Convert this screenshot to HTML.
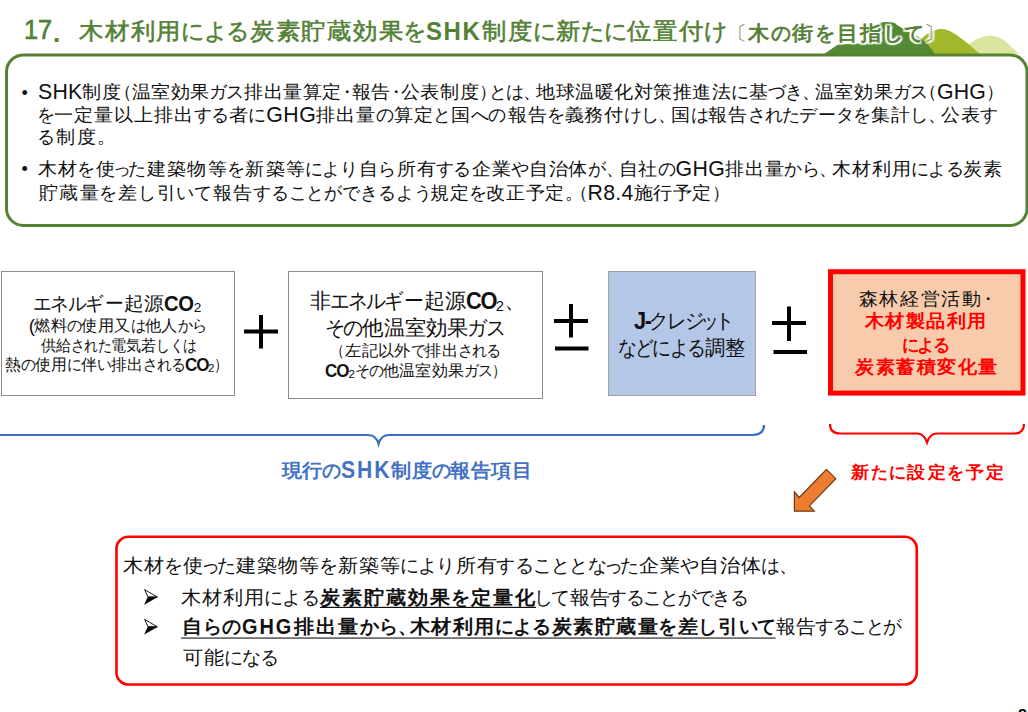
<!DOCTYPE html>
<html lang="ja">
<head>
<meta charset="utf-8">
<style>
html,body{margin:0;padding:0;background:#fff;}
body{width:1028px;height:712px;position:relative;overflow:hidden;font-family:"Liberation Sans",sans-serif;color:#111;}
svg.bg{position:absolute;left:0;top:0;}
.t{position:absolute;white-space:nowrap;line-height:1;transform-origin:0 0;}
.g{color:#538135;font-weight:bold;}
.g .cj{font-weight:normal;-webkit-text-stroke:0.55px #538135;}
.b{font-weight:bold;}
.u{text-decoration:underline;text-decoration-thickness:1.5px;text-underline-offset:3px;text-decoration-color:#444;}
.red{color:#ff0000;font-weight:bold;}
.blue{color:#4472c4;font-weight:bold;}
sub{font-size:72%;vertical-align:-0.18em;line-height:0;}
.cj{display:inline-block;white-space:nowrap;overflow:visible;}
.lt{line-height:0;}
.glow{text-shadow:0 0 2px #fff,2.4px 0 1px #fff,-2.4px 0 1px #fff,0 2.4px 1px #fff,0 -2.4px 1px #fff,1.8px 1.8px 1px #fff,-1.8px -1.8px 1px #fff,1.8px -1.8px 1px #fff,-1.8px 1.8px 1px #fff,0 0 3px #fff;}
.glow .cj{-webkit-text-stroke:0.8px #538135;}
.g .br{-webkit-text-stroke:0;color:#5f7f4c;}
</style>
</head>
<body>
<svg class="bg" width="1028" height="712" viewBox="0 0 1028 712">
  <!-- hills -->
  <path d="M958,54 C966,47 976,35.5 990,35.5 C1002,35.5 1009,45 1019,54 Z" fill="#dbe59e"/>
  <path d="M918,42 C926,34 934,29 941,29 C950,29 958,36 966,42 L980,54 L918,54 Z" fill="#a2b82b"/>
  <path d="M824,54 L838,44.5 L872,43 C875,36 876,26 879.5,23.5 C881,22.3 884,22 887,22 L893,22.5 C895,23 896,24 897.5,25.3 C906,31 915,34.5 922.5,39.5 C927,43 931,48 935,54 Z" fill="#548a33"/>
  <!-- green box -->
  <rect x="6.5" y="54.9" width="1020.5" height="170.6" rx="17" ry="17" fill="none" stroke="#548235" stroke-width="3"/>
  <!-- flow boxes -->
  <rect x="1.5" y="271.5" width="233" height="124" fill="#fff" stroke="#8c8c8c" stroke-width="1"/>
  <rect x="288.5" y="271.5" width="254" height="127" fill="#fff" stroke="#8c8c8c" stroke-width="1"/>
  <rect x="608.5" y="271.5" width="147" height="124" fill="#b4c7e7" stroke="#a0a0a0" stroke-width="1"/>
  <rect x="830.5" y="271.7" width="192.5" height="121.4" fill="#f8cbad" stroke="#ff0000" stroke-width="5"/>
  <!-- plus -->
  <rect x="244" y="329.5" width="34" height="4" fill="#000"/>
  <rect x="259" y="315" width="4" height="33.5" fill="#000"/>
  <!-- plus-minus 1 -->
  <rect x="554" y="319" width="34" height="4" fill="#000"/>
  <rect x="569" y="304" width="4" height="33.5" fill="#000"/>
  <rect x="555" y="346.5" width="33.5" height="4" fill="#000"/>
  <!-- plus-minus 2 -->
  <rect x="772" y="321" width="34" height="4" fill="#000"/>
  <rect x="787" y="306.5" width="4" height="34.5" fill="#000"/>
  <rect x="773.5" y="350" width="33.5" height="4" fill="#000"/>
  <!-- blue brace -->
  <path d="M-10,425 Q-10,435 0,435 L368,435 Q376,435 378.6,444 Q381,435 389,435 L752,435 Q764,435 764,425" fill="none" stroke="#3a6fbf" stroke-width="2.2"/>
  <!-- red brace -->
  <path d="M830,424 Q830,433.5 840,433.5 L917,433.5 Q924,433.5 927,442.5 Q930,433.5 937,433.5 L1014,433.5 Q1024,433.5 1024,424" fill="none" stroke="#ff0000" stroke-width="2.2"/>
  <!-- orange arrow -->
  <polygon points="826.5,469.4 835.8,478.7 809.4,505.9 814.3,511.2 794.4,511.2 794.4,491.8 799.2,497.5" fill="#ed7d31" stroke="#6e3a12" stroke-width="1.2" stroke-linejoin="miter"/>
  <!-- arrow bullets -->
  <polygon points="144.6,589.6 157.3,597 148,597" fill="#fff" stroke="#000" stroke-width="0.9" stroke-linejoin="miter"/>
  <polygon points="148,597 157.3,597 144.6,604.3" fill="#000" stroke="#000" stroke-width="0.5"/>
  <polygon points="144.6,619.4 157.3,626.8 148,626.8" fill="#fff" stroke="#000" stroke-width="0.9"/>
  <polygon points="148,626.8 157.3,626.8 144.6,634.1" fill="#000" stroke="#000" stroke-width="0.5"/>
  <!-- underlines -->
  <rect x="320" y="606.8" width="216" height="1.2" fill="#111"/>
  <rect x="181" y="637.2" width="594.6" height="1.8" fill="#707070"/>
  <!-- bottom red box -->
  <rect x="116.45" y="536.75" width="800.3" height="147.8" rx="12" ry="12" fill="none" stroke="#ff0000" stroke-width="2.6"/>
</svg>

<!-- title -->
<div class="t g" style="left:24.4px;top:17.3px;font-size:27px;--w:28.1px;font-weight:normal;-webkit-text-stroke:0.7px #538135">17</div>
<div class="t g" style="left:53px;top:19.5px;font-size:26px">.</div>
<div class="t g mj" style="left:78.0px;top:20.5px;font-size:22.5px;--w:648.1px">木材利用による炭素貯蔵効果をSHK制度に新たに位置付け</div>
<div class="t g mj glow" style="left:733.8px;top:22.7px;font-size:20px;--w:203.4px">〔木の街を目指して〕</div>

<!-- green box text -->
<div class="t" style="left:21.5px;top:84px;font-size:18px">•</div>
<div class="t mj" style="left:38.0px;top:83px;font-size:18px;--w:497.9px">SHK制度（温室効果ガス排出量算定・報告・公表制度）とは、</div>
<div class="t mj" style="left:536.0px;top:83px;font-size:18px;--w:460.1px">地球温暖化対策推進法に基づき、温室効果ガス（GHG）</div>
<div class="t mj" style="left:37.0px;top:106px;font-size:18px;--w:468.6px">を一定量以上排出する者にGHG排出量の算定と国への</div>
<div class="t mj" style="left:508.0px;top:106px;font-size:18px;--w:489.3px">報告を義務付けし、国は報告されたデータを集計し、公表す</div>
<div class="t mj" style="left:36.9px;top:128px;font-size:18px;--w:74.6px">る制度。</div>
<div class="t" style="left:21.5px;top:160.3px;font-size:18px">•</div>
<div class="t mj" style="left:37.0px;top:160px;font-size:18px;--w:434.0px">木材を使った建築物等を新築等により自ら所有する</div>
<div class="t mj" style="left:472.0px;top:160px;font-size:18px;--w:530.8px">企業や自治体が、自社のGHG排出量から、木材利用による炭素</div>
<div class="t mj" style="left:38.0px;top:184px;font-size:18px;--w:393.9px">貯蔵量を差し引いて報告することができるよう</div>
<div class="t mj" style="left:430.0px;top:184px;font-size:18px;--w:292.0px">規定を改正予定。（R8.4施行予定）</div>

<!-- box1 -->
<div class="t mj" style="left:33.8px;top:294px;font-size:19px;--w:167.5px">エネルギー起源<b>CO</b><sub>2</sub></div>
<div class="t mj" style="left:28.8px;top:318px;font-size:16px;--w:177.5px">(燃料の使用又は他人から</div>
<div class="t mj" style="left:40.8px;top:338px;font-size:16px;--w:154.9px">供給された電気若しくは</div>
<div class="t mj" style="left:4.7px;top:357px;font-size:16px;--w:217.2px">熱の使用に伴い排出される<b>CO</b><sub>2</sub>）</div>

<!-- box2 -->
<div class="t mj" style="left:310.4px;top:291px;font-size:20.5px;--w:206.7px">非エネルギー起源<b>CO</b><sub>2</sub>、</div>
<div class="t mj" style="left:325.9px;top:318px;font-size:20.5px;--w:179.0px">その他温室効果ガス</div>
<div class="t mj" style="left:337.4px;top:343px;font-size:16px;--w:163.1px">（左記以外で排出される</div>
<div class="t mj" style="left:324.9px;top:363px;font-size:16px;--w:174.7px"><b>CO</b><sub>2</sub>その他温室効果ガス）</div>

<!-- box3 -->
<div class="t mj" style="left:633.6px;top:311px;font-size:20.5px;--w:100.6px"><b>J-</b>クレジット</div>
<div class="t mj" style="left:619.0px;top:338px;font-size:20.5px;--w:126.0px">などによる調整</div>

<!-- red box -->
<div class="t mj" style="left:857.6px;top:291px;font-size:17.5px;--w:135.3px">森林経営活動・</div>
<div class="t red mj" style="left:863.6px;top:313px;font-size:17.5px;--w:123.0px">木材製品利用</div>
<div class="t red mj" style="left:902.5px;top:337px;font-size:17.5px;--w:47.1px">による</div>
<div class="t red mj" style="left:854.4px;top:359px;font-size:17.5px;--w:143.6px">炭素蓄積変化量</div>

<!-- labels -->
<div class="t blue mj" style="--lx:2px;--lf:1.15;left:281.6px;top:461px;font-size:19px;--w:251.0px">現行のSHK制度の報告項目</div>
<div class="t red mj" style="left:850.4px;top:464px;font-size:17px;--w:154.7px">新たに設定を予定</div>

<!-- bottom box text -->
<div class="t mj" style="left:122.3px;top:557px;font-size:18.7px;--w:671.0px">木材を使った建築物等を新築等により所有することとなった企業や自治体は、</div>
<div class="t mj" style="left:179.7px;top:589px;font-size:18.7px;--w:139.6px">木材利用による</div>
<div class="t mj b" style="left:319.2px;top:589px;font-size:18.7px;--w:217.2px">炭素貯蔵効果を定量化</div>
<div class="t mj" style="left:534.9px;top:589px;font-size:18.7px;--w:213.2px">して報告することができる</div>
<div class="t mj b" style="left:180.5px;top:618px;font-size:18.7px;--w:232.7px">自らのGHG排出量から、</div>
<div class="t mj b" style="left:409.0px;top:618px;font-size:18.7px;--w:367.0px">木材利用による炭素貯蔵量を差し引いて</div>
<div class="t mj" style="left:776.4px;top:618px;font-size:18.7px;--w:124.8px">報告することが</div>
<div class="t mj" style="left:183.0px;top:649px;font-size:18.7px;--w:95.3px">可能になる</div>

<div class="t" style="left:1018px;top:707.7px;font-size:16px;color:#000;font-weight:bold">8</div>

<script>
(function(){
  var SMALL='ぁぃぅぇぉっゃゅょゎァィゥェォッャュョヮ';
  var KX=1.06;
  function info(ch){
    var c=ch.charCodeAt(0);
    if(SMALL.indexOf(ch)>=0) return [0.65,'c'];
    if(ch==='ー') return [1.0,'c'];
    if(ch==='・'||ch==='･') return [0.5,'c'];
    if(ch==='、'||ch==='。') return [0.65,'l'];
    if(ch==='（'||ch==='〔') return [0.5,'r'];
    if(ch==='）'||ch==='〕') return [0.5,'l'];
    if(c>=0x3040&&c<=0x30FF) return [0.87,'c'];
    if((c>=0x4E00&&c<=0x9FFF)||c===0x3005) return [1.0,'c'];
    return null;
  }
  function setCell(sp,W,sq){
    sp.style.width=W+'px';
    var F=sp._F, a=sp._a;
    var ind = a==='c' ? (W-F)/2 : (a==='r' ? (W-F) : 0);
    sp.style.textIndent=ind+'px';
    var k=sp._k*sq;
    sp.style.transform = (k!==1) ? 'scaleX('+k+')' : '';
  }
  function proc(node,F,E,st){
    var kids=[].slice.call(node.childNodes);
    kids.forEach(function(k){
      if(k.nodeType===1){ if(k.tagName!=='SUB') proc(k,F,E,st); return; }
      if(k.nodeType!==3) return;
      var s=k.nodeValue, frag=document.createDocumentFragment(), run='';
      function flush(){ if(run){ var r=document.createElement('span'); r.className='lt'; r.style.fontSize=(1.1*E)+'px'; r.style.position='relative'; r.style.top=(0.06*E)+'px'; r.textContent=run; frag.appendChild(r); st.lts.push(r); run=''; } }
      for(var i=0;i<s.length;i++){
        var ch=s[i], inf=info(ch);
        if(!inf){ run+=ch; continue; }
        flush();
        var sp=document.createElement('span'); sp.className=('（）〔〕'.indexOf(ch)>=0)?'cj br':'cj';
        var W=inf[0]*E; sp._w=W; sp._a=inf[1]; sp._k=(inf[0]===1.0&&ch!=='ー')?KX:1; sp._F=F;
        setCell(sp,W,1);
        sp.textContent=ch; frag.appendChild(sp); st.cjs.push(sp);
      }
      flush();
      node.replaceChild(frag,k);
    });
  }
  var mj=document.querySelectorAll('.mj');
  for(var i=0;i<mj.length;i++){
    var el=mj[i];
    var F=parseFloat(getComputedStyle(el).fontSize), E=F/0.93;
    var st={lts:[],cjs:[]};
    proc(el,F,E,st);
    var LX=parseFloat(getComputedStyle(el).getPropertyValue('--lx'))||0;
    var LF=parseFloat(getComputedStyle(el).getPropertyValue('--lf'))||0;
    st.lts.forEach(function(r){
      if(LF) r.style.fontSize=(LF*E)+'px';
      if(LX){ r.style.letterSpacing=LX+'px'; r._lx=LX; } else r._lx=0;
      var bold=parseInt(getComputedStyle(r).fontWeight,10)>=600;
      r._ls=bold?0.9:1.0;
      if(r._ls===1) return;
      var w=r.getBoundingClientRect().width; r._w=w*r._ls;
      r.style.display='inline-block'; r.style.width=r._w+'px';
      r.style.transformOrigin='0 0'; r.style.transform='scaleX('+r._ls+')';
    });
    var w=parseFloat(getComputedStyle(el).getPropertyValue('--w'));
    if(!w) continue;
    var n=el.getBoundingClientRect().width;
    var cnt=st.cjs.length; st.lts.forEach(function(r){cnt+=r.textContent.length;});
    if(!cnt) continue;
    var ex=(w-n)/cnt;
    st.cjs.forEach(function(sp){ var W2=sp._w+ex; setCell(sp,W2, ex<0 ? W2/sp._w : 1); });
    st.lts.forEach(function(r){
      var L=r.textContent.length;
      if(r._ls!==1){ r.style.width=(r._w+ex*L)+'px'; r.style.letterSpacing=(r._lx+ex/r._ls)+'px'; }
      else r.style.letterSpacing=(r._lx+ex)+'px';
    });
    el._done=1;
  }
  var els=document.querySelectorAll('.t');
  for(var i=0;i<els.length;i++){
    var e=els[i]; if(e._done) continue;
    var w=parseFloat(getComputedStyle(e).getPropertyValue('--w'));
    if(!w) continue;
    var n=e.getBoundingClientRect().width;
    if(n>0) e.style.transform='scaleX('+(w/n)+')';
  }
})();
</script>
</body>
</html>
